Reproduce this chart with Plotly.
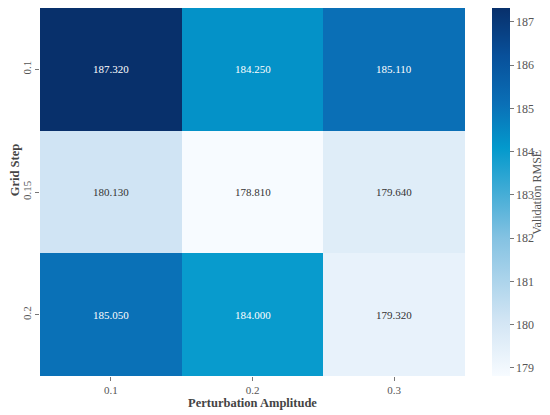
import plotly.graph_objects as go

# grid search results
amplitudes = ["0.1", "0.2", "0.3"]
grid_steps = ["0.1", "0.15", "0.2"]
rmse = [
    [187.32, 184.25, 185.11],
    [180.13, 178.81, 179.64],
    [185.05, 184.00, 179.32],
]
cbar_ticks = [179, 180, 181, 182, 183, 184, 185, 186, 187]

serif = "Liberation Serif, Times New Roman, serif"

# blues going through a cyan middle, like the original map
scale = [
    [0.0, "#f7fbff"],
    [0.15, "#d2e5f4"],
    [0.375, "#84c2e2"],
    [0.5, "#42acd6"],
    [0.62, "#0399cc"],
    [0.74, "#0a6fb6"],
    [0.87, "#08509a"],
    [1.0, "#08306b"],
]

fig = go.Figure()
fig.add_trace(go.Heatmap(
    z=rmse, x=amplitudes, y=grid_steps,
    colorscale=scale, xgap=0, ygap=0,
    hoverinfo="skip",
    colorbar=dict(
        tickvals=cbar_ticks, ticks="outside", ticklen=4, tickcolor="#777",
        tickfont=dict(family=serif, size=12, color="#555"),
        thickness=18, len=1, lenmode="fraction", y=0.5, yanchor="middle",
        x=1.0635, xanchor="left", xpad=0, ypad=0, outlinewidth=0,
    ),
))

lo = min(min(r) for r in rmse)
hi = max(max(r) for r in rmse)
for i, row in enumerate(rmse):
    for j, v in enumerate(row):
        light = (v - lo) / (hi - lo) < 0.35
        fig.add_annotation(
            x=j, y=i, text=f"{v:.3f}", showarrow=False,
            font=dict(family=serif, size=11, color="#333" if light else "white"),
        )

# axis / colorbar titles as annotations so they sit where the original has them
fig.add_annotation(
    x=1.169, y=0.5, xref="paper", yref="paper", text="Validation RMSE",
    textangle=-90, showarrow=False, xanchor="center", yanchor="middle",
    font=dict(family=serif, size=12, color="#555"),
)
fig.add_annotation(
    x=-0.058, y=0.56, xref="paper", yref="paper", text="<b>Grid Step</b>",
    textangle=-90, showarrow=False, xanchor="center", yanchor="middle",
    font=dict(family=serif, size=12.5, color="#444"),
)

# the page body adds 8px, so the figure is a bit smaller than the window
fig.update_layout(
    width=542, height=407,
    margin=dict(l=32, r=85, t=0, b=39, autoexpand=False),
    paper_bgcolor="white", plot_bgcolor="white",
    font=dict(family=serif, color="#555"),
)
fig.update_xaxes(
    type="category",
    title=dict(text="<b>Perturbation Amplitude</b>", standoff=0,
               font=dict(family=serif, size=12.5, color="#444")),
    ticks="outside", ticklen=4, tickcolor="#777", showgrid=False,
    tickfont=dict(family=serif, size=11, color="#555"),
)
fig.update_yaxes(
    type="category",
    autorange="reversed", ticks="outside", ticklen=4, tickcolor="#777",
    tickangle=-90, showgrid=False,
    tickfont=dict(family=serif, size=11, color="#555"),
)

fig.write_html("out.html")
